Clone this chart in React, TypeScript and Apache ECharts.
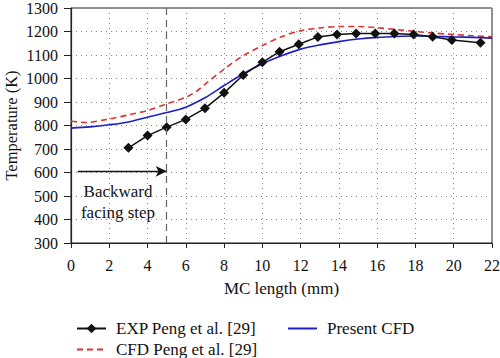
import React, { useEffect, useRef } from "react";
import * as echarts from "echarts";

const expX = [3, 4, 5, 6, 7, 8, 9, 10, 10.9, 11.9, 12.9, 13.9, 14.9, 15.9, 16.9, 17.9, 18.9, 19.9, 21.4];
const expT = [705, 757, 793, 826, 873, 939, 1015, 1069, 1114, 1146, 1177, 1187, 1191, 1192, 1192, 1187, 1178, 1164, 1152];

const cfdPengX = [0, 0.8, 2, 3, 4, 5, 6, 6.6, 7, 8, 9, 10, 11, 12, 13, 14, 15, 16, 17, 18, 19, 20, 21, 22];
const cfdPengT = [818, 813, 828, 845, 864, 892, 920, 948, 975, 1040, 1097, 1140, 1178, 1203, 1215, 1221, 1221, 1216, 1208, 1200, 1193, 1187, 1182, 1177];

const presentX = [0, 1, 2, 3, 4, 5, 6, 7, 8, 9, 10, 11, 12, 13, 14, 15, 16, 17, 18, 19, 20, 21, 22];
const presentT = [789, 794, 803, 815, 835, 855, 878, 918, 970, 1020, 1063, 1097, 1125, 1143, 1157, 1168, 1175, 1179, 1181, 1180, 1177, 1175, 1172];

const stepX = 5;
const arrowStartX = 0.35;
const arrowT = 605;

const seriesNames = ["EXP Peng et al. [29]", "CFD Peng et al. [29]", "Present CFD"];

const FONT = "Liberation Serif";

const zip = (xs: number[], ys: number[]) => xs.map((x, i) => [x, ys[i]]);

export default function App() {
  const ref = useRef<HTMLDivElement>(null);
  useEffect(() => {
    if (!ref.current) return;
    const chart = echarts.init(ref.current, null, { renderer: "svg" });
    const axisText = { color: "#111", fontFamily: FONT, fontSize: 16, formatter: (v: number) => String(v) };
    const legendText = { color: "#111", fontFamily: FONT, fontSize: 17, padding: [0, 0, 0, 5] };
    chart.setOption({
      animation: false,
      backgroundColor: "#fff",
      textStyle: { fontFamily: FONT },
      grid: {
        left: 71,
        right: 8,
        top: 8,
        bottom: 115,
        containLabel: false,
        outerBoundsMode: "none",
        show: true,
        borderColor: "#222",
        borderWidth: 1,
      },
      xAxis: {
        type: "value",
        min: 0,
        max: 22,
        interval: 2,
        name: "MC length (mm)",
        nameLocation: "middle",
        nameGap: 37,
        nameMoveOverlap: false,
        nameTextStyle: { color: "#111", fontFamily: FONT, fontSize: 17 },
        axisLine: { lineStyle: { color: "#222", width: 1.2 } },
        axisTick: { show: true, length: 5, lineStyle: { color: "#222" } },
        axisLabel: { ...axisText, margin: 14 },
        splitLine: { show: true, lineStyle: { color: "#888", type: [1, 4], width: 1 } },
      },
      yAxis: {
        type: "value",
        min: 300,
        max: 1300,
        interval: 100,
        name: "Temperature (K)",
        nameLocation: "middle",
        nameGap: 51,
        nameMoveOverlap: false,
        nameTextStyle: { color: "#111", fontFamily: FONT, fontSize: 16.5 },
        axisLine: { show: true, lineStyle: { color: "#222", width: 1.2 } },
        axisTick: { show: true, length: 7, lineStyle: { color: "#222" } },
        axisLabel: { ...axisText, margin: 13 },
        splitLine: { show: true, lineStyle: { color: "#888", type: [1, 4], width: 1 } },
      },
      legend: [
        {
          left: 71,
          top: 315,
          height: 60,
          orient: "vertical",
          itemGap: 4,
          itemWidth: 29,
          itemHeight: 12,
          data: [
            { name: seriesNames[0] },
            { name: seriesNames[1], itemStyle: { opacity: 0 } },
          ],
          textStyle: legendText,
        },
        {
          left: 282,
          top: 315,
          height: 60,
          orient: "vertical",
          itemGap: 4,
          itemWidth: 29,
          itemHeight: 12,
          data: [{ name: seriesNames[2], itemStyle: { opacity: 0 } }],
          textStyle: legendText,
        },
      ],
      graphic: [
        {
          type: "text",
          x: 118,
          y: 202,
          style: {
            text: "Backward\nfacing step",
            fontFamily: FONT,
            fontSize: 17,
            fill: "#111",
            align: "center",
            verticalAlign: "middle",
            lineHeight: 21,
          },
        },
      ],
      series: [
        {
          name: seriesNames[1],
          type: "line",
          data: zip(cfdPengX, cfdPengT),
          smooth: 0.3,
          showSymbol: false,
          symbol: "none",
          lineStyle: { color: "#e0312f", width: 1.6, type: [6, 4] },
          itemStyle: { color: "#e0312f" },
          z: 2,
        },
        {
          name: seriesNames[2],
          type: "line",
          data: zip(presentX, presentT),
          smooth: 0.3,
          showSymbol: false,
          symbol: "none",
          lineStyle: { color: "#1f1fc8", width: 1.6 },
          itemStyle: { color: "#1f1fc8" },
          z: 3,
          markLine: {
            silent: true,
            symbol: ["none", "none"],
            label: { show: false },
            data: [
              {
                xAxis: stepX,
                lineStyle: { color: "#666", type: [7, 5], width: 1.2 },
              },
              [
                {
                  coord: [arrowStartX, arrowT],
                  symbol: "none",
                  lineStyle: { color: "#111", type: "solid", width: 1.4 },
                },
                {
                  coord: [stepX, arrowT],
                  symbol: "arrow",
                  symbolSize: [8, 11],
                },
              ],
            ],
          },
        },
        {
          name: seriesNames[0],
          type: "line",
          data: zip(expX, expT),
          symbol: "diamond",
          symbolSize: 10,
          showSymbol: true,
          lineStyle: { color: "#111", width: 1.5 },
          itemStyle: { color: "#111" },
          z: 4,
        },
      ],
    });
    return () => chart.dispose();
  }, []);
  return <div ref={ref} style={{ width: 500, height: 358, position: "absolute", left: 0, top: 0 }} />;
}
